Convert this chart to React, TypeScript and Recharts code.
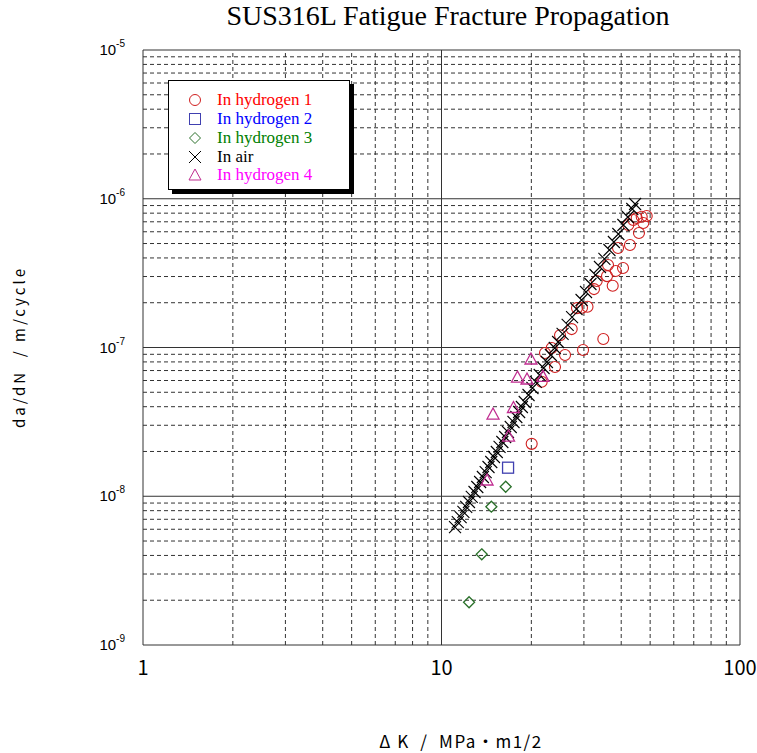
import { ScatterChart, Scatter, XAxis, YAxis, ReferenceLine } from 'recharts'

// In hydrogen 1 (red circles)
const h1K = [20.05, 21.66, 22.22, 23.4, 24.0, 24.95, 25.93, 27.3, 29.8, 28.44, 29.56, 30.84, 32.43, 33.11, 34.84, 36.13, 35.85, 37.46, 38.34, 40.56, 39.03, 42.8, 45.87, 42.25, 43.9, 45.08, 46.85, 47.43, 48.69]
const h1D = [2.25e-8, 5.89e-8, 9.18e-8, 9.92e-8, 7.4e-8, 1.21e-7, 8.9e-8, 1.33e-7, 9.62e-8, 1.84e-7, 1.85e-7, 1.88e-7, 2.47e-7, 2.8e-7, 1.14e-7, 3.59e-7, 3.02e-7, 2.6e-7, 3.27e-7, 3.42e-7, 4.67e-7, 4.89e-7, 5.89e-7, 6.66e-7, 7.2e-7, 7.43e-7, 7.57e-7, 6.87e-7, 7.66e-7]

// In hydrogen 2 (blue square)
const h2K = [16.71]
const h2D = [1.556e-8]

// In hydrogen 3 (green diamonds)
const h3K = [16.41, 14.69, 13.64, 12.37]
const h3D = [1.159e-8, 8.51e-9, 4.07e-9, 1.937e-9]

// In air (black crosses)
const airK = [11.1, 11.34, 11.59, 11.84, 12.1, 12.36, 12.63, 12.9, 13.18, 13.47, 13.76, 14.06, 14.37, 14.68, 14.99, 15.32, 15.65, 15.99, 16.34, 16.7, 17.06, 17.43, 17.81, 18.2, 18.59, 19.0, 19.57, 20.17, 20.7, 21.33, 21.98, 22.55, 23.25, 23.96, 24.59, 25.45, 26.46, 27.38, 28.34, 29.46, 30.49, 31.55, 32.8, 33.95, 35.14, 36.52, 37.8, 39.13, 40.67, 42.09, 43.57, 44.52]
const airD = [6.21e-9, 6.71e-9, 7.25e-9, 7.84e-9, 8.47e-9, 9.15e-9, 9.89e-9, 1.068e-8, 1.154e-8, 1.247e-8, 1.347e-8, 1.455e-8, 1.573e-8, 1.699e-8, 1.836e-8, 1.984e-8, 2.144e-8, 2.316e-8, 2.502e-8, 2.703e-8, 2.921e-8, 3.156e-8, 3.41e-8, 3.684e-8, 3.981e-8, 4.301e-8, 4.794e-8, 5.342e-8, 5.864e-8, 6.534e-8, 7.281e-8, 7.989e-8, 8.905e-8, 9.922e-8, 1.089e-7, 1.233e-7, 1.417e-7, 1.603e-7, 1.815e-7, 2.086e-7, 2.361e-7, 2.672e-7, 3.072e-7, 3.477e-7, 3.936e-7, 4.524e-7, 5.12e-7, 5.794e-7, 6.661e-7, 7.54e-7, 8.533e-7, 9.22e-7]

// In hydrogen 4 (magenta triangles)
const h4K = [19.94, 17.97, 19.34, 21.88, 17.42, 14.88, 16.77, 14.21]
const h4D = [8.37e-8, 6.33e-8, 6.14e-8, 6.4e-8, 3.95e-8, 3.57e-8, 2.54e-8, 1.286e-8]

const xTicks = [1, 10, 100]
const yTicks = [1e-9, 1e-8, 1e-7, 1e-6, 1e-5]
const xMinor = [2, 3, 4, 5, 6, 7, 8, 9, 20, 30, 40, 50, 60, 70, 80, 90]
const yMinor = [1e-9, 1e-8, 1e-7, 1e-6].flatMap(b => [2, 3, 4, 5, 6, 7, 8, 9].map(m => m * b))

const toPoints = (ks: number[], ds: number[]) => ks.map((k, i) => ({ k, d: ds[i] }))

const COLORS = {
  h1: '#d02020',
  h2: '#4040b0',
  h3: '#2a702a',
  air: '#000000',
  h4: '#c02c90',
}

const Circle = ({ cx, cy }: any) => <circle cx={cx} cy={cy} r={5.5} fill="none" stroke={COLORS.h1} strokeWidth={1.1} />
const Square = ({ cx, cy }: any) => <rect x={cx - 5.5} y={cy - 5.5} width={11} height={11} fill="none" stroke={COLORS.h2} strokeWidth={1.3} />
const Diamond = ({ cx, cy }: any) => <path d={`M${cx},${cy - 5.5}L${cx + 5.5},${cy}L${cx},${cy + 5.5}L${cx - 5.5},${cy}Z`} fill="none" stroke={COLORS.h3} strokeWidth={1.3} />
const Cross = ({ cx, cy }: any) => <path d={`M${cx - 6},${cy - 6}L${cx + 6},${cy + 6}M${cx - 6},${cy + 6}L${cx + 6},${cy - 6}`} stroke={COLORS.air} strokeWidth={1.1} />
const Triangle = ({ cx, cy }: any) => <path d={`M${cx},${cy - 6}L${cx + 6},${cy + 5}L${cx - 6},${cy + 5}Z`} fill="none" stroke={COLORS.h4} strokeWidth={1.3} />

const YTick = ({ x, y, payload }: any) => {
  const exp = Math.round(Math.log10(payload.value))
  return (
    <text x={x - 10} y={y + 5} textAnchor="end" fontFamily="Liberation Sans, Arial" fontSize={15} fill="#000">
      10<tspan dy={-8} fontSize={10}>{exp}</tspan>
    </text>
  )
}

const XTick = ({ x, y, payload }: any) => (
  <text x={x} y={y + 22} textAnchor="middle" fontFamily="Noto Sans CJK JP" fontSize={20} fill="#000">
    {payload.value}
  </text>
)

const legendItems = [
  { label: 'In hydrogen 1', color: '#ff0000', marker: <circle cx={8} cy={8} r={5.5} fill="none" stroke={COLORS.h1} /> },
  { label: 'In hydrogen 2', color: '#0000ff', marker: <rect x={2.5} y={2.5} width={11} height={11} fill="none" stroke={COLORS.h2} /> },
  { label: 'In hydrogen 3', color: '#008000', marker: <path d="M8,2.5L13.5,8L8,13.5L2.5,8Z" fill="none" stroke={COLORS.h3} /> },
  { label: 'In air', color: '#000000', marker: <path d="M2,2L14,14M2,14L14,2" stroke="#000" /> },
  { label: 'In hydrogen 4', color: '#ff00ff', marker: <path d="M8,2L14,13L2,13Z" fill="none" stroke={COLORS.h4} /> },
]

export default function App() {
  return (
    <div style={{ position: 'absolute', left: 0, top: 0, width: 757, height: 753, background: '#fff' }}>
      <div style={{ position: 'absolute', left: 0, top: 0, width: 896, textAlign: 'center', fontFamily: 'Liberation Serif', fontSize: 28 }}>
        SUS316L Fatigue Fracture Propagation
      </div>
      <ScatterChart width={757} height={753} margin={{ top: 50, right: 17, bottom: 68, left: 63 }}>
        <XAxis
          type="number"
          dataKey="k"
          scale="log"
          domain={[1, 100]}
          ticks={xTicks}
          allowDataOverflow
          axisLine={false}
          tickLine={false}
          tick={<XTick />}
          height={40}
        />
        <YAxis
          type="number"
          dataKey="d"
          scale="log"
          domain={[1e-9, 1e-5]}
          ticks={yTicks}
          allowDataOverflow
          axisLine={false}
          tickLine={false}
          tick={<YTick />}
          width={80}
        />
        {xMinor.map(v => (
          <ReferenceLine key={`xm${v}`} x={v} stroke="#333" strokeDasharray="4 3" />
        ))}
        {yMinor.map(v => (
          <ReferenceLine key={`ym${v}`} y={v} stroke="#333" strokeDasharray="4 3" />
        ))}
        {xTicks.map(v => (
          <ReferenceLine key={`xM${v}`} x={v} stroke="#333" />
        ))}
        {yTicks.map(v => (
          <ReferenceLine key={`yM${v}`} y={v} stroke="#333" />
        ))}
        <Scatter name="In hydrogen 1" data={toPoints(h1K, h1D)} shape={<Circle />} isAnimationActive={false} />
        <Scatter name="In hydrogen 2" data={toPoints(h2K, h2D)} shape={<Square />} isAnimationActive={false} />
        <Scatter name="In hydrogen 3" data={toPoints(h3K, h3D)} shape={<Diamond />} isAnimationActive={false} />
        <Scatter name="In air" data={toPoints(airK, airD)} shape={<Cross />} isAnimationActive={false} />
        <Scatter name="In hydrogen 4" data={toPoints(h4K, h4D)} shape={<Triangle />} isAnimationActive={false} />
      </ScatterChart>

      <div
        style={{
          position: 'absolute', left: 168, top: 80, width: 182, height: 110,
          background: '#fff', border: '1px solid #000', boxShadow: '4px 4px 0 #000',
          padding: '10px 0 0 18px', boxSizing: 'border-box',
        }}
      >
        {legendItems.map(it => (
          <div key={it.label} style={{ display: 'flex', alignItems: 'center', height: 18.75 }}>
            <svg width={16} height={16} style={{ marginRight: 14 }}>{it.marker}</svg>
            <span style={{ fontFamily: 'Liberation Serif', fontSize: 17, lineHeight: '18px', color: it.color }}>{it.label}</span>
          </div>
        ))}
      </div>

      <div
        style={{
          position: 'absolute', left: 18, top: 347, transform: 'translate(-50%, -50%) rotate(-90deg)',
          whiteSpace: 'pre', fontFamily: 'Noto Sans CJK JP', fontSize: 15, letterSpacing: 3,
        }}
      >
        {'da/dN  / m/cycle'}
      </div>
      <div
        style={{
          position: 'absolute', left: 461, top: 740, transform: 'translate(-50%, -50%)',
          whiteSpace: 'pre', fontFamily: 'Noto Sans CJK JP', fontSize: 17, letterSpacing: 1.5,
        }}
      >
        {'Δ K  /  MPa・m1/2'}
      </div>
    </div>
  )
}
